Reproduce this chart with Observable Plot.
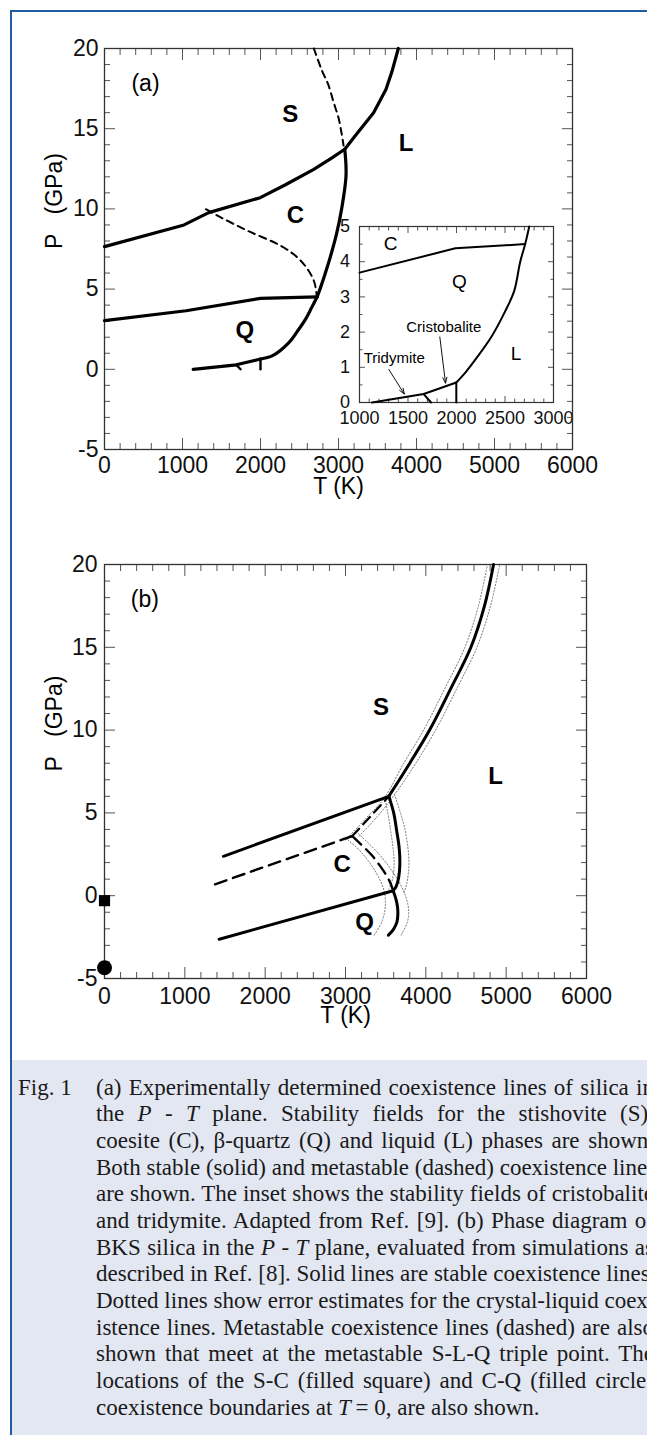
<!DOCTYPE html>
<html><head><meta charset="utf-8">
<script src="https://cdn.jsdelivr.net/npm/d3@7"></script>
<script src="https://cdn.jsdelivr.net/npm/@observablehq/plot@0.6"></script>
<style>
html,body{margin:0;padding:0;background:#fff;}
body{width:647px;height:1435px;overflow:hidden;position:relative;}
#bl{position:absolute;left:10px;top:10px;width:2px;height:1425px;background:#1f5ca3;}
#bt{position:absolute;left:10px;top:10px;width:637px;height:2px;background:#1f5ca3;}
#inset{position:absolute;left:329px;top:216px;}
#pa{position:absolute;left:0;top:0;}
#pb{position:absolute;left:0;top:510px;}
#caption{position:absolute;left:12px;top:1060px;width:635px;height:375px;background:#e3e7f2;
  font-family:"Liberation Serif","Times New Roman",serif;font-size:23px;color:#1a1a1a;overflow:hidden;}
#fig{position:absolute;left:6px;top:14.6px;line-height:26.7px;}
#txt{position:absolute;left:84px;top:14.6px;width:558px;}
.ln{height:26.7px;line-height:26.7px;text-align:justify;text-align-last:justify;white-space:nowrap;}
.ln.last{text-align-last:left;}
</style></head>
<body>
<div id="bl"></div><div id="bt"></div>
<div id="inset"></div>
<div id="pa"></div>
<div id="pb"></div>
<div id="caption">
  <div id="fig">Fig. 1</div>
  <div id="txt">
    <div class="ln">(a) Experimentally determined coexistence lines of silica in</div>
    <div class="ln">the <i>P</i> - <i>T</i> plane. Stability fields for the stishovite (S),</div>
    <div class="ln">coesite (C), β-quartz (Q) and liquid (L) phases are shown.</div>
    <div class="ln">Both stable (solid) and metastable (dashed) coexistence lines</div>
    <div class="ln">are shown. The inset shows the stability fields of cristobalite</div>
    <div class="ln">and tridymite. Adapted from Ref. [9]. (b) Phase diagram of</div>
    <div class="ln">BKS silica in the <i>P</i> - <i>T</i> plane, evaluated from simulations as</div>
    <div class="ln">described in Ref. [8]. Solid lines are stable coexistence lines.</div>
    <div class="ln">Dotted lines show error estimates for the crystal-liquid coex-</div>
    <div class="ln">istence lines. Metastable coexistence lines (dashed) are also</div>
    <div class="ln">shown that meet at the metastable S-L-Q triple point. The</div>
    <div class="ln">locations of the S-C (filled square) and C-Q (filled circle)</div>
    <div class="ln last">coexistence boundaries at <i>T</i>&#8201;= 0, are also shown.</div>
  </div>
</div>
<script>
// ---------- tick values ----------
const xMaj = [0, 1000, 2000, 3000, 4000, 5000, 6000];
const xMin = [200,400,600,800,1200,1400,1600,1800,2200,2400,2600,2800,3200,3400,3600,3800,4200,4400,4600,4800,5200,5400,5600,5800];
const yMaj = [-5, 0, 5, 10, 15, 20];
const yMin = [-4,-3,-2,-1,1,2,3,4,6,7,8,9,11,12,13,14,16,17,18,19];
const ixMaj = [1000, 1500, 2000, 2500, 3000];
const ixMin = [1100,1200,1300,1400,1600,1700,1800,1900,2100,2200,2300,2400,2600,2700,2800,2900];
const iyMaj = [0, 1, 2, 3, 4, 5];
const iyMin = [0.5, 1.5, 2.5, 3.5, 4.5];

// ---------- panel (a): experimental lines [T (K), P (GPa)] ----------
const csA = [[0,7.65],[1020,9.0],[1336,9.77],[1997,10.7],[2314,11.49],[2683,12.47],[2921,13.2],[3080,13.72]];
const slA = [[3080,13.72],[3212,14.54],[3450,16.0],[3608,17.45],[3687,18.59],[3767,20]];
const clA = [[3080,13.72],[3095,12.8],[3095,11.95],[3043,10.08],[2974,8.42],[2868,6.56],[2763,5.0],[2726,4.52]];
const qlA = [[2726,4.52],[2657,3.86],[2578,3.13],[2470,2.35],[2367,1.68],[2155,0.85],[2000,0.64]];
const qcA = [[0,3.03],[1046,3.65],[2000,4.42],[2726,4.52]];
const qtA = [[1137,0],[1690,0.28],[2000,0.64]];
const tcA = [[1690,0.28],[1744,0]];
const crA = [[2000,0.64],[2000,0]];
const scDashA = [[2684,20],[2790,18.6],[2868,17.76],[2940,16.6],[3000,15.68],[3040,14.7],[3065,13.95]];
const cqDashA = [[1300,9.98],[1495,9.46],[1838,8.63],[2261,7.7],[2472,6.98],[2604,6.24],[2684,5.52],[2710,5.0],[2720,4.6]];
const phaseA = [{t:2380,p:15.9,s:"S"},{t:3866,p:14.1,s:"L"},{t:2449,p:9.6,s:"C"},{t:1798,p:2.42,s:"Q"}];
const tagA = [{t:526,p:17.8,s:"(a)"}];

// ---------- inset ----------
const cqI = [[1000,3.69],[1988,4.38],[2708,4.5]];
const qlI = [[2750,5],[2708,4.5],[2657,4.0],[2595,3.17],[2496,2.56],[2365,1.89],[2211,1.28],[2091,0.85],[1998,0.57]];
const qtI = [[1130,0],[1662,0.24],[1998,0.57]];
const tcI = [[1662,0.24],[1738,0]];
const crI = [[1998,0.57],[1998,0]];
const phaseI = [{t:1320,p:4.5,s:"C"},{t:2031,p:3.42,s:"Q"},{t:2615,p:1.38,s:"L"}];
const noteI = [{t:1869,p:2.14,s:"Cristobalite"},{t:1358,p:1.27,s:"Tridymite"}];
const arrowI = [{t1:1828,p1:1.86,t2:1887,p2:0.55},{t1:1302,p1:0.94,t2:1462,p2:0.24}];

// ---------- panel (b): BKS simulation ----------
const csB = [[1480,2.38],[3540,6.0]];
const qcB = [[1428,-2.63],[3593,0.3]];
const slB = [[3545,6.05],[3800,8.0],[4047,10],[4310,12.5],[4561,15],[4730,17.5],[4843,20]];
const clB = [[3540,6.0],[3600,5.0],[3636,3.95],[3668,2.9],[3677,1.94],[3662,1.1],[3630,0.55],[3593,0.3]];
const qlB = [[3593,0.3],[3628,-0.2],[3647,-0.67],[3652,-1.1],[3640,-1.6],[3595,-2.05],[3534,-2.38]];
const sqDashB = [[1376,0.69],[3085,3.6]];
const slDashB = [[3085,3.6],[3540,6.0]];
const qlDashB = [[3085,3.6],[3210,3.02],[3328,2.44],[3430,1.8],[3508,1.24],[3560,0.75],[3593,0.3]];
const slLoB = [[3000,3.35],[3250,4.65],[3490,5.95],[3725,8.0],[3972,10],[4235,12.5],[4486,15],[4655,17.5],[4766,20]];
const slHiB = [[3170,3.6],[3390,4.75],[3610,6.1],[3875,8.0],[4122,10],[4385,12.5],[4636,15],[4805,17.5],[4920,20]];
const clLoB = [[3490,5.95],[3560,4.0],[3605,2.0],[3580,0.9],[3540,0.4]];
const clHiB = [[3610,6.1],[3740,4.0],[3790,2.0],[3765,0.8],[3730,0.2]];
const qlLoB = [[3000,3.5],[3200,2.6],[3380,1.4],[3480,0.3],[3495,-0.7],[3450,-1.6],[3354,-2.4]];
const qlHiB = [[3160,3.75],[3420,2.5],[3620,1.2],[3730,0.2],[3785,-0.8],[3770,-1.6],[3690,-2.4]];
const squareB = [{t:0,p:-0.3}];
const circleB = [{t:0,p:-4.35}];
const phaseB = [{t:3441,p:11.38,s:"S"},{t:4869,p:7.2,s:"L"},{t:2958,p:1.92,s:"C"},{t:3236,p:-1.62,s:"Q"}];
const tagB = [{t:503,p:17.9,s:"(b)"}];

// ---------- helpers ----------
const FONT = '"Liberation Sans", Arial, Helvetica, sans-serif';
const T = d => d[0], P = d => d[1];
const blank = () => "";
const fmt = d => String(d);

function ticks(xa, xb, ya, yb, big, small) {
  const c = {stroke: "#555", strokeWidth: 1, tickFormat: blank, label: null};
  const out = [];
  for (const anchor of ["bottom", "top"]) {
    out.push(Plot.axisX({...c, anchor, ticks: xa, tickSize: -big}));
    out.push(Plot.axisX({...c, anchor, ticks: xb, tickSize: -small}));
  }
  for (const anchor of ["left", "right"]) {
    out.push(Plot.axisY({...c, anchor, ticks: ya, tickSize: -big}));
    out.push(Plot.axisY({...c, anchor, ticks: yb, tickSize: -small}));
  }
  return out;
}
function solid(data, w, curve = "linear") {
  return Plot.line(data, {x: T, y: P, stroke: "#000", strokeWidth: w, curve, strokeLinejoin: "round"});
}
function dashed(data, w, dash, curve = "linear") {
  return Plot.line(data, {x: T, y: P, stroke: "#000", strokeWidth: w, strokeDasharray: dash, curve});
}
function dotted(data) {
  return Plot.line(data, {x: T, y: P, stroke: "#666", strokeWidth: 0.9, strokeDasharray: "1.2,2", curve: "catmull-rom"});
}

// ---------- panel (a) ----------
const pa = Plot.plot({
  width: 647, height: 510,
  marginLeft: 104, marginRight: 75, marginTop: 48, marginBottom: 61,
  x: {domain: [0, 6000]}, y: {domain: [-5, 20]},
  style: {background: "transparent", fontFamily: FONT, color: "#111", overflow: "visible"},
  marks: [
    ...ticks(xMaj, xMin, yMaj, yMin, 11, 6),
    Plot.axisX({anchor: "bottom", ticks: xMaj, tickSize: 0, tickPadding: 7.5, tickFormat: fmt, fontSize: 23, label: null}),
    Plot.axisY({anchor: "left", ticks: yMaj, tickSize: 0, tickPadding: 6, tickFormat: fmt, fontSize: 23, label: null}),
    Plot.frame({stroke: "#333", strokeWidth: 1.3}),
    dashed(scDashA, 2, "7,5", "catmull-rom"),
    dashed(cqDashA, 2, "7,5", "catmull-rom"),
    solid(csA, 3.2), solid(slA, 3.2), solid(clA, 3.2, "catmull-rom"), solid(qlA, 3.2, "catmull-rom"),
    solid(qcA, 3.2), solid(qtA, 3.2), solid(tcA, 2.4), solid(crA, 2.4),
    Plot.text(phaseA, {x: "t", y: "p", text: "s", fontWeight: "bold", fontSize: 24, fill: "#000"}),
    Plot.text(tagA, {x: "t", y: "p", text: "s", fontSize: 23, fill: "#000"}),
    Plot.text(["T (K)"], {frameAnchor: "bottom", dy: 44, fontSize: 23, fill: "#000"}),
    Plot.text(["P\u00a0\u00a0\u00a0(GPa)"], {frameAnchor: "left", dx: -49.5, rotate: -90, fontSize: 23, fill: "#000"})
  ]
});
document.getElementById("pa").appendChild(pa);

// ---------- inset ----------
const ins = Plot.plot({
  width: 246, height: 211,
  marginLeft: 30, marginRight: 22, marginTop: 10, marginBottom: 25,
  x: {domain: [1000, 3000]}, y: {domain: [0, 5]},
  style: {background: "transparent", fontFamily: FONT, color: "#111", overflow: "visible"},
  marks: [
    Plot.frame({fill: "white", stroke: null}),
    ...ticks(ixMaj, ixMin, iyMaj, iyMin, 6, 3.5),
    Plot.axisX({anchor: "bottom", ticks: ixMaj, tickSize: 0, tickPadding: 8.5, tickFormat: fmt, fontSize: 18, label: null}),
    Plot.axisY({anchor: "left", ticks: iyMaj, tickSize: 0, tickPadding: 9.5, tickFormat: fmt, fontSize: 18, label: null}),
    Plot.frame({stroke: "#333", strokeWidth: 1.2}),
    solid(cqI, 2), solid(qlI, 2, "catmull-rom"), solid(qtI, 2), solid(tcI, 2), solid(crI, 2),
    Plot.arrow(arrowI, {x1: "t1", y1: "p1", x2: "t2", y2: "p2", stroke: "#111", strokeWidth: 1, headLength: 9, headAngle: 40}),
    Plot.text(phaseI, {x: "t", y: "p", text: "s", fontSize: 19, fill: "#000"}),
    Plot.text(noteI, {x: "t", y: "p", text: "s", fontSize: 15, fill: "#000"})
  ]
});
document.getElementById("inset").appendChild(ins);

// ---------- panel (b) ----------
const pb = Plot.plot({
  width: 647, height: 535,
  marginLeft: 104, marginRight: 61, marginTop: 54, marginBottom: 67,
  x: {domain: [0, 6000]}, y: {domain: [-5, 20]},
  style: {background: "transparent", fontFamily: FONT, color: "#111", overflow: "visible"},
  marks: [
    ...ticks(xMaj, xMin, yMaj, yMin, 11, 6),
    Plot.axisX({anchor: "bottom", ticks: xMaj, tickSize: 0, tickPadding: 9.2, tickFormat: fmt, fontSize: 23, label: null}),
    Plot.axisY({anchor: "left", ticks: yMaj, tickSize: 0, tickPadding: 7, tickFormat: fmt, fontSize: 23, label: null}),
    Plot.frame({stroke: "#333", strokeWidth: 1.3}),
    dotted(slLoB), dotted(slHiB), dotted(clLoB), dotted(clHiB), dotted(qlLoB), dotted(qlHiB),
    dashed(sqDashB, 2.4, "12,7"), dashed(slDashB, 2.2, "10,6"), dashed(qlDashB, 2.4, "12,7", "catmull-rom"),
    solid(csB, 3), solid(qcB, 3), solid(slB, 3, "catmull-rom"), solid(clB, 3, "catmull-rom"), solid(qlB, 3, "catmull-rom"),
    Plot.dot(squareB, {x: "t", y: "p", symbol: "square", r: 6.3, fill: "#000", stroke: null}),
    Plot.dot(circleB, {x: "t", y: "p", symbol: "circle", r: 7.5, fill: "#000", stroke: null}),
    Plot.text(phaseB, {x: "t", y: "p", text: "s", fontWeight: "bold", fontSize: 24, fill: "#000"}),
    Plot.text(tagB, {x: "t", y: "p", text: "s", fontSize: 23, fill: "#000"}),
    Plot.text(["T (K)"], {frameAnchor: "bottom", dy: 44, fontSize: 23, fill: "#000"}),
    Plot.text(["P\u00a0\u00a0\u00a0(GPa)"], {frameAnchor: "left", dx: -49.5, rotate: -90, fontSize: 23, fill: "#000"})
  ]
});
document.getElementById("pb").appendChild(pb);
</script>
</body></html>
